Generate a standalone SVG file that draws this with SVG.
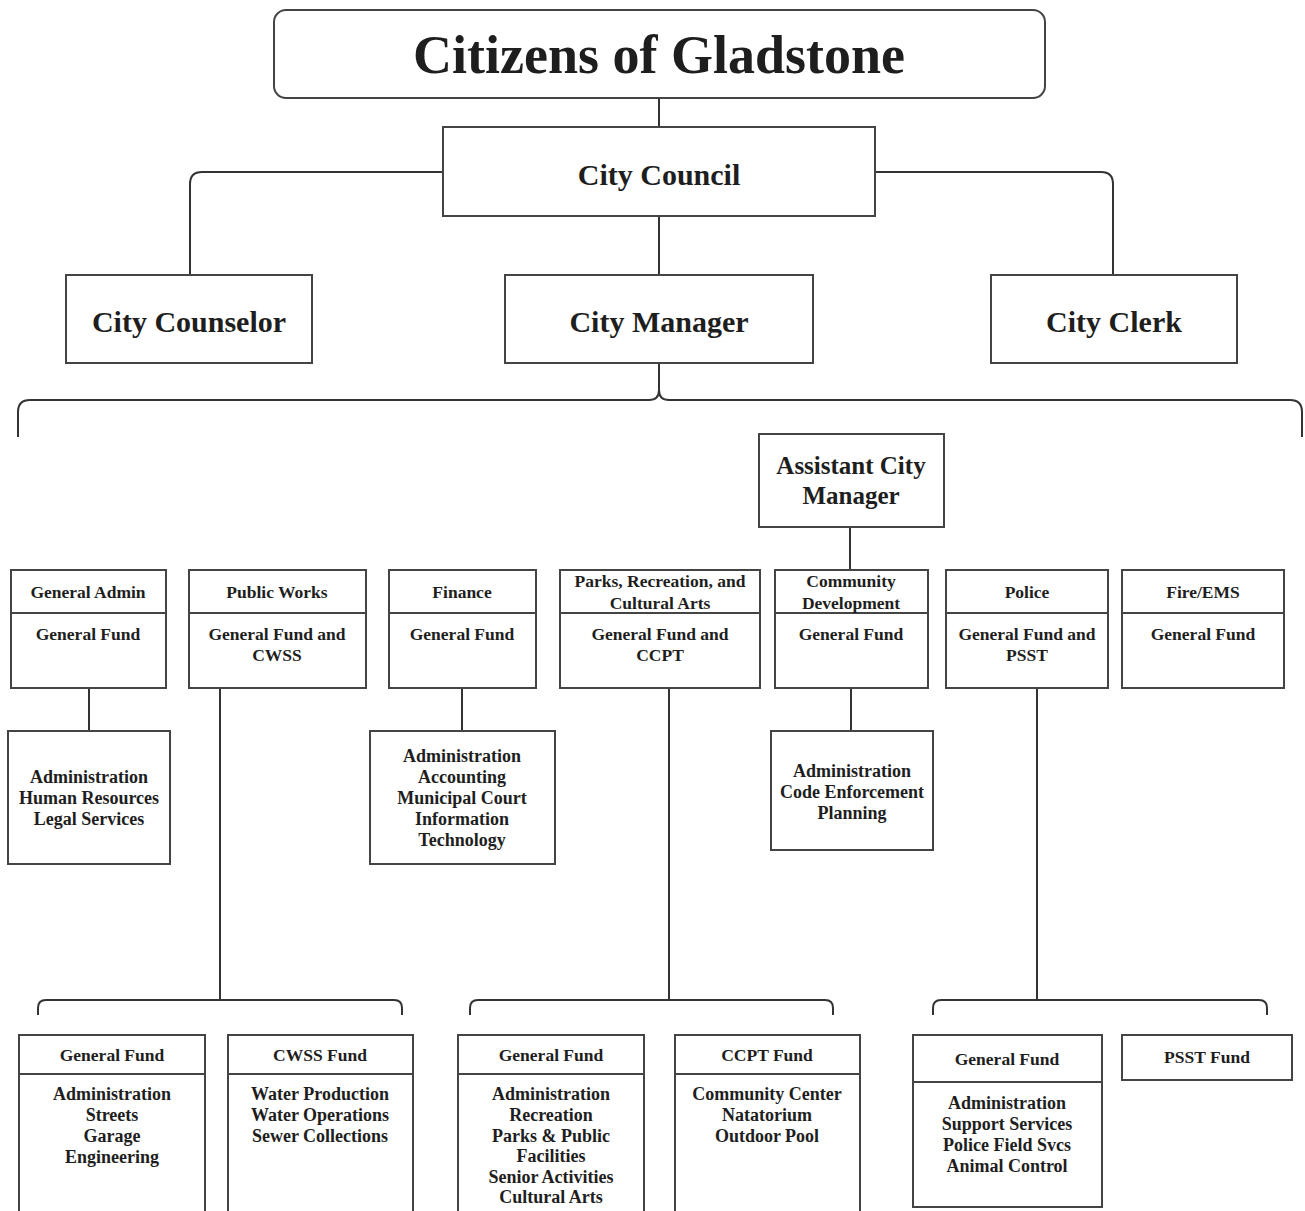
<svg xmlns="http://www.w3.org/2000/svg" width="1305" height="1211" viewBox="0 0 1305 1211">
<style>
.box{fill:#fff;stroke:#444;stroke-width:2}
.div{stroke:#444;stroke-width:2}
.conn{fill:none;stroke:#333;stroke-width:2}
text{font-family:"Liberation Serif","Times New Roman",serif;font-weight:bold;fill:#1e1e1e;text-anchor:middle;dominant-baseline:central}
.t1{font-size:54px}
.t2{font-size:30px}
.t3{font-size:25px}
.h{font-size:17.5px}
.b{font-size:18px}
</style>
<rect width="1305" height="1211" fill="#fff"/>
<g id="connectors">
<path class="conn" d="M659,98 V127"/>
<path class="conn" d="M659,216 V275"/>
<path class="conn" d="M443,172 H202 Q190,172 190,184 V275"/>
<path class="conn" d="M875,172 H1101 Q1113,172 1113,184 V275"/>
<path class="conn" d="M659,363 V390"/>
<path class="conn" d="M18,437 V412 Q18,400 30,400 H649 Q659,400 659,390 Q659,400 669,400 H1290 Q1302,400 1302,412 V437"/>
<path class="conn" d="M850,527 V570"/>
<path class="conn" d="M89,688 V731"/>
<path class="conn" d="M462,688 V731"/>
<path class="conn" d="M851,688 V731"/>
<path class="conn" d="M220,688 V1000"/>
<path class="conn" d="M38,1015 V1008 Q38,1000 46,1000 H394 Q402,1000 402,1008 V1015"/>
<path class="conn" d="M669,688 V1000"/>
<path class="conn" d="M470,1015 V1008 Q470,1000 478,1000 H825 Q833,1000 833,1008 V1015"/>
<path class="conn" d="M1037,688 V1000"/>
<path class="conn" d="M933,1015 V1008 Q933,1000 941,1000 H1259 Q1267,1000 1267,1008 V1015"/>
</g>
<g id="citizens">
<rect class="box" x="274" y="10" width="771" height="88" rx="12"/>
<text class="t1" x="659" y="55">Citizens of Gladstone</text>
</g>
<g id="council">
<rect class="box" x="443" y="127" width="432" height="89"/>
<text class="t2" x="659" y="174">City Council</text>
</g>
<g id="counselor">
<rect class="box" x="66" y="275" width="246" height="88"/>
<text class="t2" x="189" y="321">City Counselor</text>
</g>
<g id="manager">
<rect class="box" x="505" y="275" width="308" height="88"/>
<text class="t2" x="659" y="321">City Manager</text>
</g>
<g id="clerk">
<rect class="box" x="991" y="275" width="246" height="88"/>
<text class="t2" x="1114" y="321">City Clerk</text>
</g>
<g id="asst-manager">
<rect class="box" x="759" y="434" width="185" height="93"/>
<text class="t3" x="851" y="465">Assistant City</text>
<text class="t3" x="851" y="495">Manager</text>
</g>
<g id="general-admin">
<rect class="box" x="11" y="570" width="155" height="118"/>
<line class="div" x1="11" y1="613" x2="166" y2="613"/>
<text class="h" x="88" y="592">General Admin</text>
<text class="h" x="88" y="634">General Fund</text>
</g>
<g id="public-works">
<rect class="box" x="189" y="570" width="177" height="118"/>
<line class="div" x1="189" y1="613" x2="366" y2="613"/>
<text class="h" x="277" y="592">Public Works</text>
<text class="h" x="277" y="634">General Fund and</text>
<text class="h" x="277" y="655">CWSS</text>
</g>
<g id="finance">
<rect class="box" x="389" y="570" width="147" height="118"/>
<line class="div" x1="389" y1="613" x2="536" y2="613"/>
<text class="h" x="462" y="592">Finance</text>
<text class="h" x="462" y="634">General Fund</text>
</g>
<g id="parks">
<rect class="box" x="560" y="570" width="200" height="118"/>
<line class="div" x1="560" y1="613" x2="760" y2="613"/>
<text class="h" x="660" y="581">Parks, Recreation, and</text>
<text class="h" x="660" y="603">Cultural Arts</text>
<text class="h" x="660" y="634">General Fund and</text>
<text class="h" x="660" y="655">CCPT</text>
</g>
<g id="community-dev">
<rect class="box" x="775" y="570" width="153" height="118"/>
<line class="div" x1="775" y1="613" x2="928" y2="613"/>
<text class="h" x="851" y="581">Community</text>
<text class="h" x="851" y="603">Development</text>
<text class="h" x="851" y="634">General Fund</text>
</g>
<g id="police">
<rect class="box" x="946" y="570" width="162" height="118"/>
<line class="div" x1="946" y1="613" x2="1108" y2="613"/>
<text class="h" x="1027" y="592">Police</text>
<text class="h" x="1027" y="634">General Fund and</text>
<text class="h" x="1027" y="655">PSST</text>
</g>
<g id="fire-ems">
<rect class="box" x="1122" y="570" width="162" height="118"/>
<line class="div" x1="1122" y1="613" x2="1284" y2="613"/>
<text class="h" x="1203" y="592">Fire/EMS</text>
<text class="h" x="1203" y="634">General Fund</text>
</g>
<g id="ga-services">
<rect class="box" x="8" y="731" width="162" height="133"/>
<text class="b" x="89" y="777">Administration</text>
<text class="b" x="89" y="798">Human Resources</text>
<text class="b" x="89" y="819">Legal Services</text>
</g>
<g id="finance-services">
<rect class="box" x="370" y="731" width="185" height="133"/>
<text class="b" x="462" y="756">Administration</text>
<text class="b" x="462" y="777">Accounting</text>
<text class="b" x="462" y="798">Municipal Court</text>
<text class="b" x="462" y="819">Information</text>
<text class="b" x="462" y="840">Technology</text>
</g>
<g id="cd-services">
<rect class="box" x="771" y="731" width="162" height="119"/>
<text class="b" x="852" y="771">Administration</text>
<text class="b" x="852" y="792">Code Enforcement</text>
<text class="b" x="852" y="813">Planning</text>
</g>
<g id="pw-general-fund">
<rect class="box" x="19" y="1035" width="186" height="200"/>
<line class="div" x1="19" y1="1074" x2="205" y2="1074"/>
<text class="h" x="112" y="1055">General Fund</text>
<text class="b" x="112" y="1094">Administration</text>
<text class="b" x="112" y="1115">Streets</text>
<text class="b" x="112" y="1136">Garage</text>
<text class="b" x="112" y="1157">Engineering</text>
</g>
<g id="pw-cwss-fund">
<rect class="box" x="228" y="1035" width="185" height="200"/>
<line class="div" x1="228" y1="1074" x2="413" y2="1074"/>
<text class="h" x="320" y="1055">CWSS Fund</text>
<text class="b" x="320" y="1094">Water Production</text>
<text class="b" x="320" y="1115">Water Operations</text>
<text class="b" x="320" y="1136">Sewer Collections</text>
</g>
<g id="parks-general-fund">
<rect class="box" x="458" y="1035" width="186" height="200"/>
<line class="div" x1="458" y1="1074" x2="644" y2="1074"/>
<text class="h" x="551" y="1055">General Fund</text>
<text class="b" x="551" y="1094">Administration</text>
<text class="b" x="551" y="1115">Recreation</text>
<text class="b" x="551" y="1136">Parks &amp; Public</text>
<text class="b" x="551" y="1156">Facilities</text>
<text class="b" x="551" y="1177">Senior Activities</text>
<text class="b" x="551" y="1197">Cultural Arts</text>
</g>
<g id="ccpt-fund">
<rect class="box" x="675" y="1035" width="185" height="200"/>
<line class="div" x1="675" y1="1074" x2="860" y2="1074"/>
<text class="h" x="767" y="1055">CCPT Fund</text>
<text class="b" x="767" y="1094">Community Center</text>
<text class="b" x="767" y="1115">Natatorium</text>
<text class="b" x="767" y="1136">Outdoor Pool</text>
</g>
<g id="police-general-fund">
<rect class="box" x="913" y="1035" width="189" height="172"/>
<line class="div" x1="913" y1="1082" x2="1102" y2="1082"/>
<text class="h" x="1007" y="1059">General Fund</text>
<text class="b" x="1007" y="1103">Administration</text>
<text class="b" x="1007" y="1124">Support Services</text>
<text class="b" x="1007" y="1145">Police Field Svcs</text>
<text class="b" x="1007" y="1166">Animal Control</text>
</g>
<g id="psst-fund">
<rect class="box" x="1122" y="1035" width="170" height="45"/>
<text class="h" x="1207" y="1057">PSST Fund</text>
</g>
</svg>
